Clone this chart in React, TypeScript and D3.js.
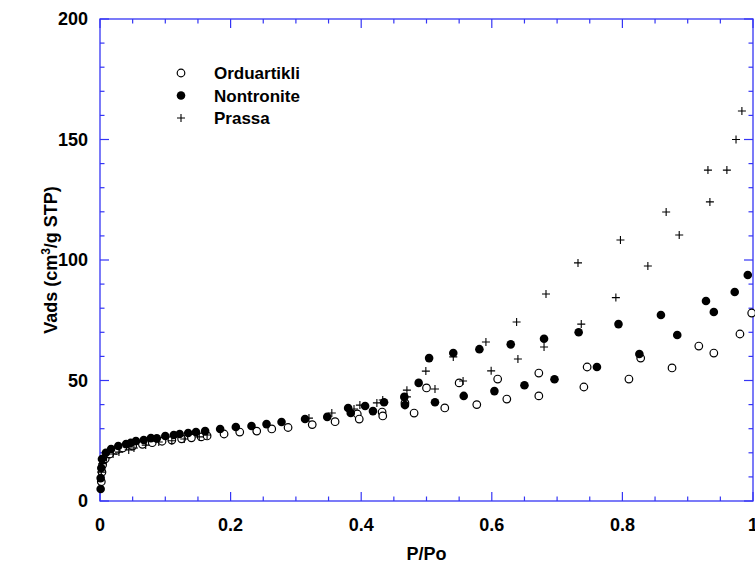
import React, { useEffect, useRef } from 'react';
import * as d3 from 'd3';

// P/Po and Vads values
const orduX = [0.002, 0.003, 0.004, 0.008, 0.015, 0.025, 0.035, 0.05, 0.065, 0.08, 0.095, 0.11, 0.125, 0.14, 0.155,
    0.164, 0.19, 0.214, 0.24, 0.263, 0.288, 0.325, 0.36, 0.394, 0.397, 0.432, 0.433, 0.467, 0.481, 0.50, 0.528,
    0.55, 0.577, 0.609, 0.623, 0.672, 0.672, 0.741, 0.746, 0.81, 0.828, 0.876, 0.917, 0.94, 0.98, 0.998];
const orduY = [8, 12, 15, 17.5, 19.5, 21, 22, 22.8, 23.5, 24.2, 24.8, 25.3, 25.8, 26.2, 26.6,
    27, 27.8, 28.6, 29, 29.9, 30.5, 31.7, 32.9, 36.1, 34, 36.9, 35.3, 40.7, 36.5, 46.9, 38.6,
    49, 40, 50.6, 42.3, 53.1, 43.6, 47.3, 55.6, 50.6, 59.3, 55.2, 64.3, 61.4, 69.3, 78];

const nontX = [0.001, 0.001, 0.002, 0.003, 0.009, 0.017, 0.028, 0.04, 0.047, 0.055, 0.067, 0.078, 0.087, 0.10,
    0.113, 0.122, 0.135, 0.147, 0.161, 0.184, 0.208, 0.232, 0.255, 0.278, 0.314, 0.348, 0.38, 0.384, 0.406,
    0.418, 0.435, 0.466, 0.467, 0.488, 0.504, 0.513, 0.541, 0.557, 0.581, 0.604, 0.629, 0.65, 0.68, 0.696,
    0.733, 0.761, 0.794, 0.826, 0.859, 0.884, 0.928, 0.94, 0.972, 0.992];
const nontY = [5, 9.5, 13.7, 17.4, 20, 21.6, 22.8, 23.6, 24.1, 24.9, 25.3, 26.1, 26, 27,
    27.4, 27.8, 28.2, 28.6, 29, 29.9, 30.7, 31.1, 31.9, 32.8, 34, 34.9, 38.6, 36.5, 39.4,
    37.3, 41, 43.2, 39.8, 49, 59.3, 41, 61.4, 43.6, 63, 45.6, 65, 48, 67.3, 50.5,
    70, 55.6, 73.4, 61, 77.2, 68.9, 83, 78.4, 86.7, 93.8];

const prassaX = [0.002, 0.004, 0.01, 0.02, 0.029, 0.044, 0.052, 0.07, 0.09, 0.11, 0.129, 0.152, 0.164, 0.32,
    0.355, 0.389, 0.398, 0.424, 0.433, 0.47, 0.47, 0.499, 0.513, 0.541, 0.556, 0.591, 0.599, 0.638, 0.64,
    0.68, 0.683, 0.737, 0.732, 0.79, 0.797, 0.839, 0.867, 0.887, 0.931, 0.934, 0.96, 0.974, 0.983];
const prassaY = [12, 15.5, 18, 19.5, 20.3, 21.2, 22, 23.2, 24.5, 25, 25.7, 26.6, 27.4, 34.4,
    36.5, 38.2, 39.8, 40.7, 41.9, 46, 43.2, 53.9, 46.5, 59.8, 49.8, 66, 54, 74.3, 58.9,
    63.9, 85.9, 73.4, 98.8, 84.4, 108.3, 97.5, 119.9, 110.4, 137.3, 124.1, 137.3, 150, 161.8];

const seriesNames = ['Orduartikli', 'Nontronite', 'Prassa'];
const xTicks = [0, 0.2, 0.4, 0.6, 0.8, 1];
const yTicks = [0, 50, 100, 150, 200];

const AXIS_COLOR = '#3535f5';
const FONT = 'Liberation Sans, Arial, sans-serif';

function drawSymbol(g, kind, x, y)
{
    if (kind === 2)
    {
        g.append('path')
            .attr('d', `M${ x - 4 },${ y }H${ x + 4 }M${ x },${ y - 4 }V${ y + 4 }`)
            .attr('stroke', '#000')
            .attr('stroke-width', 1.1)
            .attr('fill', 'none');
    }
    else
    {
        g.append('circle')
            .attr('cx', x)
            .attr('cy', y)
            .attr('r', kind === 1 ? 4.3 : 3.8)
            .attr('fill', kind === 1 ? '#000' : '#fff')
            .attr('stroke', '#000')
            .attr('stroke-width', kind === 1 ? 0 : 1.2);
    }
}

export default function App()
{
    const svgRef = useRef(null);

    useEffect(() =>
    {
        const width = 755;
        const height = 566;
        const margin = { top: 19, right: 2, bottom: 65, left: 100 };
        const innerWidth = width - margin.left - margin.right;
        const innerHeight = height - margin.top - margin.bottom;

        const svg = d3.select(svgRef.current);
        svg.selectAll('*').remove();
        svg.attr('width', width).attr('height', height);

        const g = svg.append('g').attr('transform', `translate(${ margin.left },${ margin.top })`);

        const x = d3.scaleLinear().domain([0, 1]).range([0, innerWidth]);
        const y = d3.scaleLinear().domain([0, 200]).range([innerHeight, 0]);

        // frame
        g.append('rect')
            .attr('width', innerWidth)
            .attr('height', innerHeight)
            .attr('fill', 'none')
            .attr('stroke', AXIS_COLOR)
            .attr('stroke-width', 1.3);

        // inward ticks on all four sides
        const ticks = g.append('g').attr('stroke', AXIS_COLOR).attr('stroke-width', 1.2);
        d3.range(0, 1.0001, 0.05).forEach((v, i) =>
        {
            const len = i % 4 === 0 ? 9 : 4.5;
            const px = x(v);
            ticks.append('line').attr('x1', px).attr('x2', px).attr('y1', innerHeight).attr('y2', innerHeight - len);
            ticks.append('line').attr('x1', px).attr('x2', px).attr('y1', 0).attr('y2', len);
        });
        d3.range(0, 200.001, 10).forEach((v, i) =>
        {
            const len = i % 5 === 0 ? 9 : 4.5;
            const py = y(v);
            ticks.append('line').attr('x1', 0).attr('x2', len).attr('y1', py).attr('y2', py);
            ticks.append('line').attr('x1', innerWidth).attr('x2', innerWidth - len).attr('y1', py).attr('y2', py);
        });

        // tick labels
        g.append('g')
            .selectAll('text')
            .data(xTicks)
            .join('text')
            .attr('x', (d) => x(d))
            .attr('y', innerHeight + 30)
            .attr('text-anchor', 'middle')
            .attr('font-family', FONT)
            .attr('font-weight', 'bold')
            .attr('font-size', 18)
            .text((d) => (d === 0 || d === 1 ? String(d) : d.toFixed(1)));

        g.append('g')
            .selectAll('text')
            .data(yTicks)
            .join('text')
            .attr('x', -12)
            .attr('y', (d) => y(d) + 6)
            .attr('text-anchor', 'end')
            .attr('font-family', FONT)
            .attr('font-weight', 'bold')
            .attr('font-size', 18)
            .text((d) => d);

        // axis titles
        svg.append('text')
            .attr('x', margin.left + innerWidth / 2)
            .attr('y', 560)
            .attr('text-anchor', 'middle')
            .attr('font-family', FONT)
            .attr('font-weight', 'bold')
            .attr('font-size', 18)
            .text('P/Po');

        const yTitle = svg.append('text')
            .attr('transform', `translate(57,${ margin.top + innerHeight / 2 }) rotate(-90)`)
            .attr('text-anchor', 'middle')
            .attr('font-family', FONT)
            .attr('font-weight', 'bold')
            .attr('font-size', 18);
        yTitle.append('tspan').text('Vads (cm');
        yTitle.append('tspan').attr('font-size', 12).attr('dy', -7).text('3');
        yTitle.append('tspan').attr('dy', 7).text('/g STP)');

        // data
        const series = [[orduX, orduY], [nontX, nontY], [prassaX, prassaY]];
        const marks = g.append('g');
        series.forEach(([xs, ys], k) =>
        {
            xs.forEach((xv, i) => drawSymbol(marks, k, x(xv), y(ys[i])));
        });

        // legend
        const legend = svg.append('g');
        seriesNames.forEach((name, k) =>
        {
            const ly = 73 + k * 22.5;
            drawSymbol(legend, k, 181, ly);
            legend.append('text')
                .attr('x', 214)
                .attr('y', ly + 6)
                .attr('font-family', FONT)
                .attr('font-weight', 'bold')
                .attr('font-size', 17)
                .text(name);
        });
    }, []);

    return (
        <svg ref={ svgRef } style={ { position: 'absolute', left: 0, top: 0 } } />
    );
}
